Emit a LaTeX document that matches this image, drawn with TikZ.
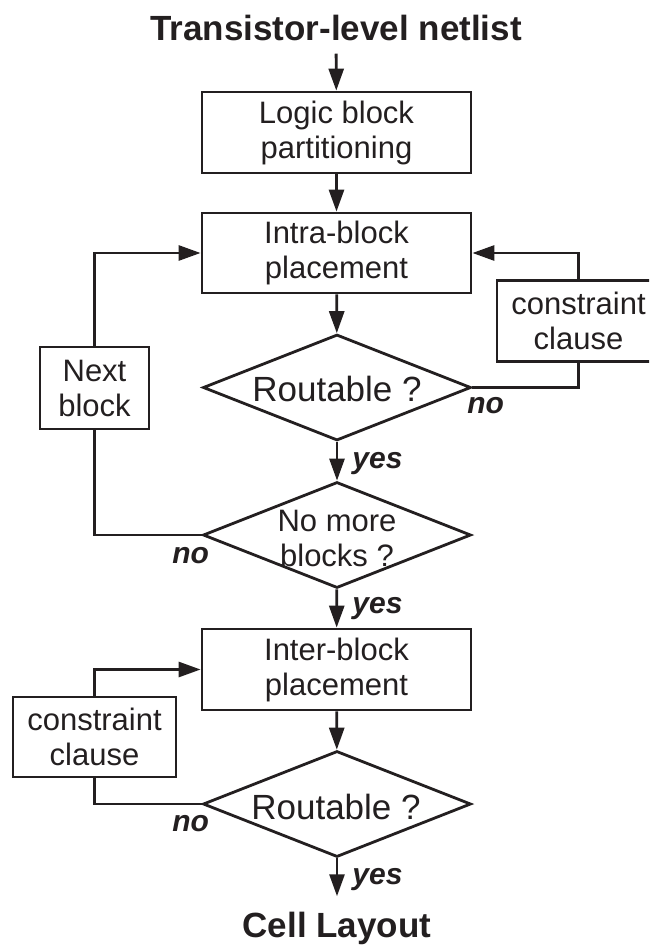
\documentclass[tikz,border=0pt]{standalone}
\usepackage{fontspec}
\setmainfont{Liberation Sans}
\usetikzlibrary{arrows.meta,shapes.geometric}
\definecolor{ink}{HTML}{231F20}
\begin{document}
\begin{tikzpicture}[x=1pt,y=-1pt,
  line width=2.8pt, draw=ink, text=ink,
  every node/.style={font=\fontsize{31}{35}\selectfont},
  procbox/.style={draw, rectangle, inner sep=0pt, align=center,
    minimum width=269pt, minimum height=81pt},
  sidebox/.style={draw, rectangle, inner sep=0pt, align=center,
    minimum width=109pt, minimum height=82pt},
  clausebox/.style={draw, rectangle, inner sep=0pt, align=center,
    minimum width=163pt, minimum height=81pt},
  decision/.style={draw, diamond, inner sep=0pt,
    minimum width=268pt, minimum height=106pt},
  decisiontext/.style={align=center, inner sep=0pt},
  terminal/.style={font=\fontsize{35}{40}\selectfont\bfseries, anchor=base},
  answer/.style={font=\fontsize{30}{34}\selectfont\bfseries\itshape,
    anchor=base west, inner sep=0pt},
  arr/.style={-{Triangle[length=22pt,width=15pt]}}]
\useasboundingbox (0,0) rectangle (649,945);
% the right-hand clause box runs past the page edge
\clip (0,0) rectangle (649,945);

% terminals
\node[terminal, inner sep=12pt] (start) at (336,40) {Transistor-level netlist};
\node[terminal, inner sep=14pt] (finish) at (337,937) {Cell Layout};

% main column
\node[procbox] (part) at (336.5,132.5) {Logic block\\partitioning};
\node[procbox, minimum height=80pt] (intra) at (336.5,253) {Intra-block\\placement};
\node[decision] (route1) at (337,387.5) {};
\node[decisiontext, font=\fontsize{35}{40}\selectfont] (route1t) at (337,389) {Routable ?};
\node[decision] (more) at (337,535) {};
\node[decisiontext] (moret) at (337,538.5) {No more\\blocks ?};
\node[procbox] (inter) at (336.5,669.5) {Inter-block\\placement};
\node[decision] (route2) at (337,804) {};
\node[decisiontext, font=\fontsize{35}{40}\selectfont] (route2t) at (336,806.5) {Routable ?};

% side boxes
\node[sidebox] (next) at (94.5,388) {Next\\block};
\node[clausebox] (clause1) at (578.5,321) {constraint\\clause};
\node[clausebox, minimum height=80pt] (clause2) at (94.5,737) {constraint\\clause};

% branch labels
\node[answer] (no1) at (466,413) {no};
\node[answer] (yes1) at (351,468) {yes};
\node[answer] (no2) at (171,563) {no};
\node[answer] (yes2) at (351,613) {yes};
\node[answer] (no3) at (171,831) {no};
\node[answer] (yes3) at (351,884) {yes};

% main flow
\draw[arr] (start) -- (part);
\draw[arr] (part) -- (intra);
\draw[arr] (intra) -- (route1);
\draw[arr] (route1) -- (more);
\draw[arr] (more) -- (inter);
\draw[arr] (inter) -- (route2);
\draw[arr] (route2) -- (finish);

% feedback loops
\draw (route1.east) -| (clause1.south);
\draw[arr] (clause1.north) |- (intra.east);
\draw (more.west) -| (next.south);
\draw[arr] (next.north) |- (intra.west);
\draw (route2.west) -| (clause2.south);
\draw[arr] (clause2.north) |- (inter.west);
\end{tikzpicture}
\end{document}
